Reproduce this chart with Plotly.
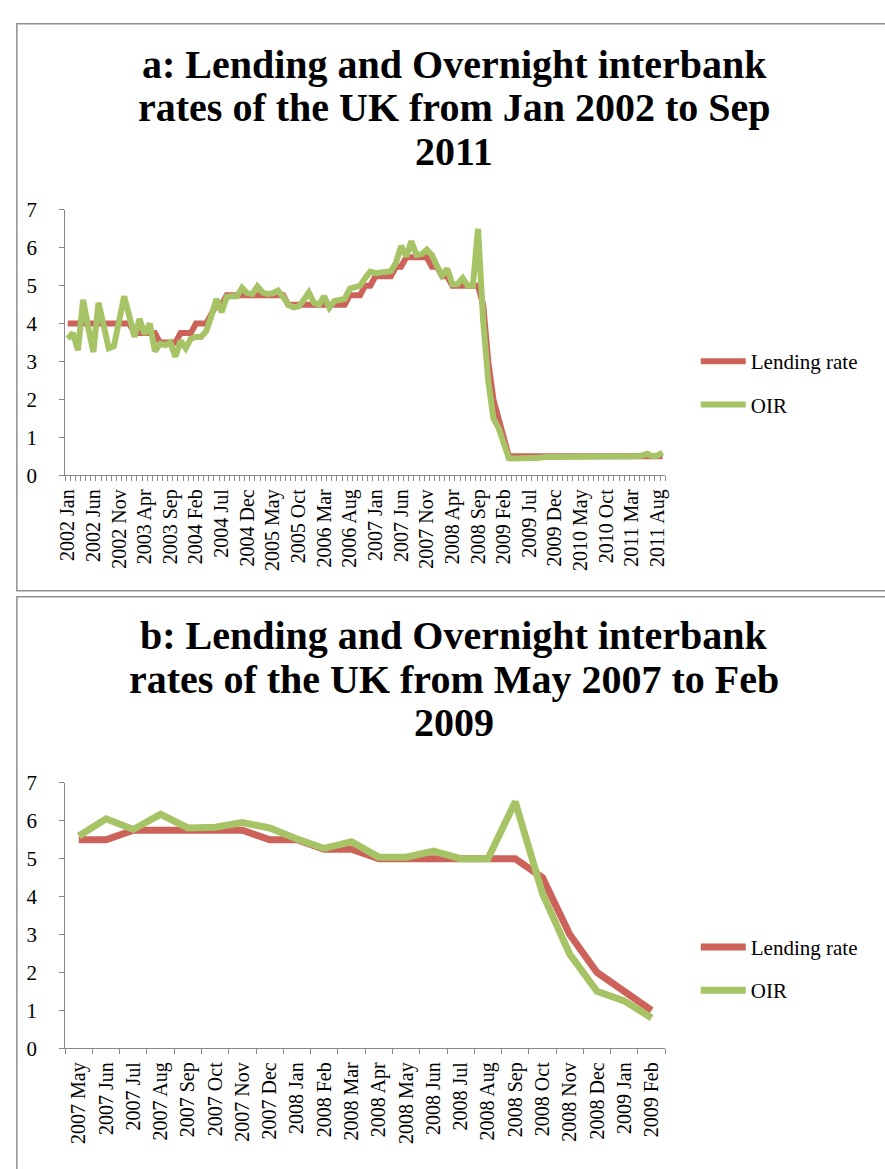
import plotly.graph_objects as go

W, H = 885, 1169

# ---------------------------------------------------------------- data
MONTH_NAMES = ["Jan", "Feb", "Mar", "Apr", "May", "Jun",
               "Jul", "Aug", "Sep", "Oct", "Nov", "Dec"]

# Panel a: Jan 2002 - Sep 2011 (monthly)
months_a = [f"{y} {m}" for y in range(2002, 2012) for m in MONTH_NAMES][:117]

lending_a = [
    4.0, 4.0, 4.0, 4.0, 4.0, 4.0, 4.0, 4.0, 4.0, 4.0, 4.0, 4.0,            # 2002
    4.0, 3.75, 3.75, 3.75, 3.75, 3.75, 3.5, 3.5, 3.5, 3.5, 3.75, 3.75,     # 2003
    3.75, 4.0, 4.0, 4.0, 4.25, 4.5, 4.5, 4.75, 4.75, 4.75, 4.75, 4.75,     # 2004
    4.75, 4.75, 4.75, 4.75, 4.75, 4.75, 4.75, 4.5, 4.5, 4.5, 4.5, 4.5,     # 2005
    4.5, 4.5, 4.5, 4.5, 4.5, 4.5, 4.5, 4.75, 4.75, 4.75, 5.0, 5.0,         # 2006
    5.25, 5.25, 5.25, 5.25, 5.5, 5.5, 5.75, 5.75, 5.75, 5.75, 5.75, 5.5,   # 2007
    5.5, 5.25, 5.25, 5.0, 5.0, 5.0, 5.0, 5.0, 5.0, 4.5, 3.0, 2.0,          # 2008
    1.5, 1.0, 0.5, 0.5, 0.5, 0.5, 0.5, 0.5, 0.5, 0.5, 0.5, 0.5,            # 2009
    0.5, 0.5, 0.5, 0.5, 0.5, 0.5, 0.5, 0.5, 0.5, 0.5, 0.5, 0.5,            # 2010
    0.5, 0.5, 0.5, 0.5, 0.5, 0.5, 0.5, 0.5, 0.5,                           # 2011
]

oir_a = [
    3.6, 3.75, 3.3, 4.63, 3.9, 3.25, 4.55, 3.95, 3.35, 3.4, 4.0, 4.72,     # 2002
    4.2, 3.65, 4.12, 3.72, 4.0, 3.27, 3.47, 3.43, 3.5, 3.13, 3.55, 3.35,   # 2003
    3.6, 3.65, 3.65, 3.8, 4.2, 4.65, 4.3, 4.7, 4.72, 4.72, 4.94, 4.8,      # 2004
    4.78, 4.98, 4.82, 4.78, 4.8, 4.87, 4.7, 4.5, 4.43, 4.45, 4.62, 4.82,   # 2005
    4.55, 4.5, 4.72, 4.42, 4.6, 4.62, 4.65, 4.92, 4.98, 5.0, 5.2, 5.37,    # 2006
    5.33, 5.35, 5.35, 5.38, 5.6, 6.05, 5.77, 6.17, 5.81, 5.83, 5.95, 5.81, # 2007
    5.52, 5.27, 5.45, 5.04, 5.04, 5.2, 5.0, 5.0, 6.5, 4.08, 2.48, 1.5,     # 2008
    1.25, 0.8, 0.45, 0.44, 0.44, 0.45, 0.45, 0.45, 0.46, 0.48, 0.48, 0.48, # 2009
    0.48, 0.48, 0.49, 0.5, 0.5, 0.5, 0.5, 0.5, 0.5, 0.5, 0.5, 0.5,         # 2010
    0.5, 0.5, 0.5, 0.5, 0.52, 0.57, 0.5, 0.52, 0.6,                        # 2011
]

# Panel b: May 2007 - Feb 2009 (monthly)
months_b = ["2007 May", "2007 Jun", "2007 Jul", "2007 Aug", "2007 Sep",
            "2007 Oct", "2007 Nov", "2007 Dec", "2008 Jan", "2008 Feb",
            "2008 Mar", "2008 Apr", "2008 May", "2008 Jun", "2008 Jul",
            "2008 Aug", "2008 Sep", "2008 Oct", "2008 Nov", "2008 Dec",
            "2009 Jan", "2009 Feb"]

lending_b = [5.5, 5.5, 5.75, 5.75, 5.75, 5.75, 5.75, 5.5, 5.5, 5.25, 5.25,
             5.0, 5.0, 5.0, 5.0, 5.0, 5.0, 4.5, 3.0, 2.0, 1.5, 1.0]
oir_b = [5.6, 6.05, 5.77, 6.17, 5.81, 5.83, 5.95, 5.81, 5.52, 5.27, 5.45,
         5.04, 5.04, 5.2, 5.0, 5.0, 6.5, 4.08, 2.48, 1.5, 1.25, 0.8]

# labels shown on the long axis: every fifth month
label_step_a = 5
ticktext_a = [m if i % label_step_a == 0 else "" for i, m in enumerate(months_a)]

titles_a = ["a: Lending and Overnight interbank",
            "rates of the UK from Jan 2002 to Sep",
            "2011"]
titles_b = ["b: Lending and Overnight interbank",
            "rates of the UK from May 2007 to Feb",
            "2009"]

series_names = ["Lending rate", "OIR"]
series_colors = ["#CD625A", "#A6C465"]

# ---------------------------------------------------------------- helpers
def px_x(x):
    return x / W


def px_y(y):
    return 1 - y / H


SERIF = "Liberation Serif"
AXIS_GREY = "#878787"

fig = go.Figure()

for name, color, ya, yb in zip(series_names, series_colors,
                               [lending_a, oir_a], [lending_b, oir_b]):
    fig.add_trace(go.Scatter(
        x=months_a, y=ya, mode="lines", name=name,
        line=dict(color=color, width=6),
        xaxis="x", yaxis="y", legend="legend", legendgroup=name + "a",
    ))
    fig.add_trace(go.Scatter(
        x=months_b, y=yb, mode="lines", name=name,
        line=dict(color=color, width=7),
        xaxis="x2", yaxis="y2", legend="legend2", legendgroup=name + "b",
    ))


def xaxis_style(cats, ticktext, domain):
    return dict(
        domain=domain, type="category",
        range=[-0.5, len(cats) - 0.5],
        tickmode="array", tickvals=cats, ticktext=ticktext,
        tickson="boundaries", ticks="outside", ticklen=5,
        tickcolor=AXIS_GREY, tickwidth=1,
        showline=True, linecolor=AXIS_GREY, linewidth=1,
        showgrid=False, zeroline=False,
        tickangle=-90, ticklabelstandoff=5,
        tickfont=dict(family=SERIF, size=20, color="black"),
        fixedrange=True,
    )


def yaxis_style(domain, anchor):
    return dict(
        domain=domain, anchor=anchor, range=[0, 7], dtick=1,
        ticks="outside", ticklen=5, tickcolor=AXIS_GREY, tickwidth=1,
        showline=True, linecolor=AXIS_GREY, linewidth=1,
        showgrid=False, zeroline=False, ticklabelstandoff=18,
        tickfont=dict(family=SERIF, size=21, color="black"),
        fixedrange=True,
    )


x_dom = [px_x(57), px_x(666)]
legend_common = dict(xanchor="left", yanchor="top",
                     font=dict(family=SERIF, size=21, color="black"),
                     tracegroupgap=13, itemwidth=45,
                     bgcolor="rgba(0,0,0,0)")
fig.update_layout(
    width=W, height=H,
    margin=dict(l=0, r=0, t=0, b=0),
    paper_bgcolor="white", plot_bgcolor="white",
    xaxis=dict(anchor="y", **xaxis_style(months_a, ticktext_a, x_dom)),
    yaxis=yaxis_style([px_y(473), px_y(202)], "x"),
    xaxis2=dict(anchor="y2", **xaxis_style(months_b, months_b, x_dom)),
    yaxis2=yaxis_style([px_y(1058), px_y(787)], "x2"),
    legend=dict(x=px_x(697), y=px_y(336), **legend_common),
    legend2=dict(x=px_x(697), y=px_y(934), **legend_common),
)

# panel frames
for y0, y1 in [(12, 591), (597, 1190)]:
    fig.add_shape(type="rect", xref="paper", yref="paper",
                  x0=px_x(8), x1=px_x(900), y0=px_y(y1), y1=px_y(y0),
                  line=dict(color="#8E8E8E", width=1.5), layer="below")

# panel titles
for lines, centers in [(titles_a, [63, 107, 151]), (titles_b, [646, 690, 734])]:
    for text, yc in zip(lines, centers):
        fig.add_annotation(
            text=f"<b>{text}</b>", xref="paper", yref="paper",
            x=px_x(452), y=px_y(yc - 9), xanchor="center", yanchor="middle",
            showarrow=False,
            font=dict(family=SERIF, size=40, color="black"),
        )

fig.write_html("out.html")
